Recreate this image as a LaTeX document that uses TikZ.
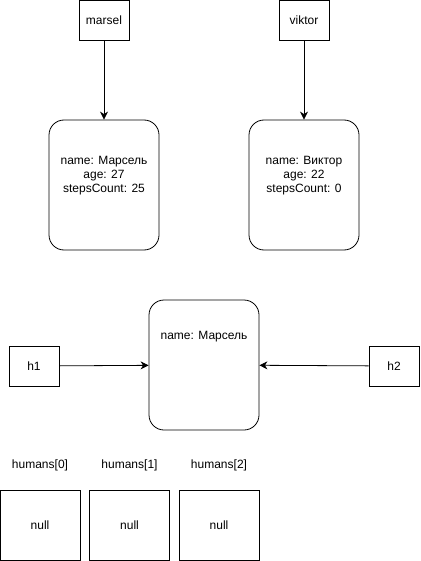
\documentclass[tikz,border=0pt]{standalone}
\usepackage{fontspec}
\setmainfont{Liberation Sans}
\usetikzlibrary{arrows.meta}

\tikzset{
  ref/.style={draw,thick,minimum width=50pt,minimum height=40pt,inner sep=0pt},
  obj/.style={draw,thick,rounded corners=15pt,minimum width=110pt,minimum height=130pt,inner sep=0pt},
  cell/.style={draw,thick,minimum width=80pt,minimum height=70pt,inner sep=0pt},
  txt/.style={align=center,inner sep=0pt},
  link/.style={thick,-{Stealth[length=8pt,width=8pt,inset=2.5pt]}}
}

\begin{document}
\begin{tikzpicture}[x=1pt,y=-1pt,font=\fontsize{12}{14}\selectfont]
  \useasboundingbox (0,0) rectangle (420,561);
  % variables and the objects they point to
  \node[ref] (marsel) at (104,20.5) {marsel};
  \node[ref] (viktor) at (304,20.5) {viktor};
  \node[obj] (omarsel) at (104,185) {};
  \node[obj] (oviktor) at (304,185) {};
  \node[txt] (tmarsel) at (104,176) {name: Марсель\\age: 27\\stepsCount: 25};
  \node[txt] (tviktor) at (304,176) {name: Виктор\\age: 22\\stepsCount: 0};
  \draw[link] (marsel) -- (omarsel);
  \draw[link] (viktor) -- (oviktor);
  % two references to one object
  \node[ref] (h1) at (34,366) {h1};
  \node[ref] (h2) at (394,366) {h2};
  \node[obj] (ohuman) at (204,365) {};
  \node[txt] (thuman) at (204,337) {name: Марсель};
  \draw[link] (h1) -- (ohuman);
  \draw[link] (h2) -- (ohuman);
  % the array cells
  \foreach \i/\x in {0/40,1/129.5,2/219} {
    \node[txt] (lbl\i) at (\x,465) {humans[\i]};
    \node[cell] (cell\i) at (\x,525) {null};
  }
\end{tikzpicture}
\end{document}
